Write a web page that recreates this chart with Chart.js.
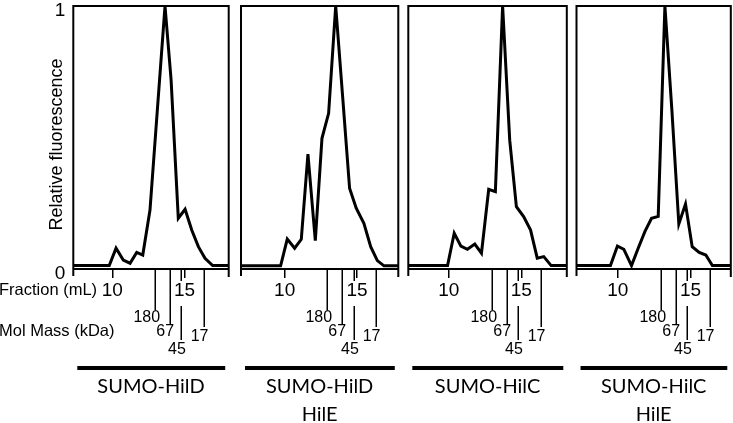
<!DOCTYPE html>
<html>
<head>
<meta charset="utf-8">
<script src="https://cdn.jsdelivr.net/npm/chart.js@4.4.0/dist/chart.umd.min.js"></script>
<style>
html, body { margin: 0; padding: 0; background: #fff; }
#wrap { position: relative; width: 733px; height: 423px; overflow: hidden; }
canvas { position: absolute; top: 0; }
</style>
</head>
<body>
<div id="wrap">
  <canvas id="c1" width="235" height="423" style="left:0px"></canvas>
  <canvas id="c2" width="168" height="423" style="left:235px"></canvas>
  <canvas id="c3" width="169" height="423" style="left:403px"></canvas>
  <canvas id="c4" width="161" height="423" style="left:572px"></canvas>
</div>
<script>
// elution volume (mL) and relative fluorescence, one pair per run
var hildX = [7.30, 9.79, 10.26, 10.76, 11.23, 11.69, 12.11, 12.61, 13.12, 13.65, 14.07, 14.57, 15.04, 15.50, 15.96, 16.42, 16.95, 18.06];
var hildY = [0.013, 0.013, 0.079, 0.034, 0.022, 0.063, 0.053, 0.224, 0.605, 1.0, 0.72, 0.193, 0.227, 0.148, 0.085, 0.041, 0.013, 0.013];

var hildHileX = [6.98, 9.72, 10.18, 10.69, 11.15, 11.61, 12.12, 12.58, 13.04, 13.53, 14.01, 14.49, 14.95, 15.48, 15.95, 16.41, 16.87, 17.86];
var hildHileY = [0.012, 0.012, 0.114, 0.079, 0.113, 0.437, 0.108, 0.497, 0.592, 1.0, 0.655, 0.307, 0.231, 0.174, 0.085, 0.032, 0.012, 0.012];

var hilcX = [7.20, 9.91, 10.37, 10.83, 11.28, 11.79, 12.25, 12.75, 13.21, 13.71, 14.20, 14.66, 15.16, 15.64, 16.10, 16.55, 17.06, 18.14];
var hilcY = [0.013, 0.013, 0.136, 0.087, 0.075, 0.095, 0.060, 0.303, 0.294, 1.0, 0.49, 0.237, 0.199, 0.148, 0.041, 0.047, 0.013, 0.013];

var hilcHileX = [7.15, 9.49, 9.97, 10.41, 10.94, 11.40, 11.86, 12.32, 12.78, 13.24, 13.72, 14.20, 14.66, 15.12, 15.60, 16.06, 16.51, 17.78];
var hilcHileY = [0.013, 0.013, 0.087, 0.075, 0.013, 0.079, 0.142, 0.193, 0.200, 1.0, 0.605, 0.171, 0.247, 0.085, 0.063, 0.053, 0.013, 0.013];

var xRanges = [[7.30, 18.06], [6.98, 17.86], [7.20, 18.14], [7.15, 17.78]];
var fractionTicks = [10, 15];
var fluorTicks = [0, 1];

// size standards
var markerMass = ['180', '67', '45', '17'];
var markerVolume = [12.95, 13.98, 14.78, 16.35];

var panelNames = [['SUMO-HilD'], ['SUMO-HilD', 'HilE'], ['SUMO-HilC'], ['SUMO-HilC', 'HilE']];

// layout bits (pixels)
var pads = [
  { left: 0, right: 6.3 },
  { left: 6, right: 4.7 },
  { left: 5.3, right: 5.2 },
  { left: 4.5, right: 2.2 }
];
var markerLineEnd = [41, 55, 71, 58];    // below the axis
var markerLabelY = [49, 63, 80.5, 68];
var markerLabelDx = [-8.5, -5, -4.3, -4.7];

var arial = '"Liberation Sans", Arial, sans-serif';
var labelFont = 'Lato, "Open Sans", sans-serif';

var framePlugin = {
  id: 'frame',
  afterDraw: function(chart) {
    var ctx = chart.ctx, a = chart.chartArea, x = chart.scales.x;
    var idx = chart.options.plugins.frame.index;
    ctx.save();
    ctx.strokeStyle = '#000';
    ctx.lineWidth = 2;
    ctx.beginPath();
    ctx.moveTo(a.left, a.bottom + 7);
    ctx.lineTo(a.left, a.top);
    ctx.lineTo(a.right, a.top);
    ctx.lineTo(a.right, a.bottom + 8);
    ctx.moveTo(a.left, a.bottom);
    ctx.lineTo(a.right, a.bottom);
    ctx.stroke();

    // size standard lines
    ctx.lineWidth = 1.5;
    ctx.fillStyle = '#000';
    ctx.font = '16px ' + arial;
    ctx.textAlign = 'center';
    ctx.textBaseline = 'middle';
    markerVolume.forEach(function(v, k) {
      var px = Math.round(x.getPixelForValue(v)) + 0.25;
      ctx.beginPath();
      if (k === 2) {
        ctx.moveTo(px, a.bottom);
        ctx.lineTo(px, a.bottom + 12);
        ctx.moveTo(px, a.bottom + 37);
        ctx.lineTo(px, a.bottom + markerLineEnd[k]);
      } else {
        ctx.moveTo(px, a.bottom);
        ctx.lineTo(px, a.bottom + markerLineEnd[k]);
      }
      ctx.stroke();
      ctx.fillText(markerMass[k], px + markerLabelDx[k], a.bottom + markerLabelY[k]);
    });

    // construct bar and name
    var cx = (a.left + a.right) / 2;
    ctx.lineWidth = 4;
    ctx.beginPath();
    ctx.moveTo(a.left + 4, 368);
    ctx.lineTo(a.right - 3.5, 368);
    ctx.stroke();
    ctx.font = '20px ' + labelFont;
    panelNames[idx].forEach(function(t, k) {
      ctx.fillText(t, cx, 387 + k * 28);
    });

    if (idx === 0) {
      ctx.font = '16.5px ' + arial;
      ctx.textAlign = 'left';
      ctx.fillText('Fraction (mL)', -1, 290);
      ctx.fillText('Mol Mass (kDa)', -1, 331);
      ctx.save();
      ctx.translate(57, 144.5);
      ctx.rotate(-Math.PI / 2);
      ctx.textAlign = 'center';
      ctx.font = '18px ' + arial;
      ctx.fillText('Relative fluorescence', 0, 0);
      ctx.restore();
    }
    ctx.restore();
  }
};

function zeroPad(s) {
  s.paddingTop = 0; s.paddingBottom = 0; s.paddingLeft = 0; s.paddingRight = 0;
}

function makeChart(id, idx, xs, ys) {
  var pts = xs.map(function(v, k) { return { x: v, y: ys[k] }; });
  return new Chart(document.getElementById(id), {
    type: 'line',
    data: {
      datasets: [{
        data: pts,
        borderColor: '#000',
        borderWidth: 3,
        pointRadius: 0,
        tension: 0,
        borderJoinStyle: 'miter',
        fill: false
      }]
    },
    options: {
      responsive: false,
      animation: false,
      events: [],
      layout: { padding: { top: 6, bottom: 0, left: pads[idx].left, right: pads[idx].right } },
      plugins: {
        legend: { display: false },
        tooltip: { enabled: false },
        frame: { index: idx }
      },
      scales: {
        x: {
          type: 'linear',
          min: xRanges[idx][0],
          max: xRanges[idx][1],
          afterBuildTicks: function(s) { s.ticks = fractionTicks.map(function(v) { return { value: v }; }); },
          afterFit: function(s) { s.height = 154; zeroPad(s); },
          grid: { drawOnChartArea: false, tickLength: 9, lineWidth: 1.5, color: '#000' },
          border: { display: false },
          ticks: { color: '#000', font: { family: arial, size: 19 }, padding: 1, maxRotation: 0, autoSkip: false }
        },
        y: {
          min: 0,
          max: 1,
          display: idx === 0,
          afterBuildTicks: function(s) { s.ticks = fluorTicks.map(function(v) { return { value: v }; }); },
          afterFit: function(s) { s.width = idx === 0 ? 73.3 : 0; zeroPad(s); },
          grid: { drawOnChartArea: false, drawTicks: false },
          border: { display: false },
          ticks: { color: '#000', font: { family: arial, size: 19 }, padding: 8, labelOffset: 4.5 }
        }
      }
    },
    plugins: [framePlugin]
  });
}

makeChart('c1', 0, hildX, hildY);
makeChart('c2', 1, hildHileX, hildHileY);
makeChart('c3', 2, hilcX, hilcY);
makeChart('c4', 3, hilcHileX, hilcHileY);
</script>
</body>
</html>
